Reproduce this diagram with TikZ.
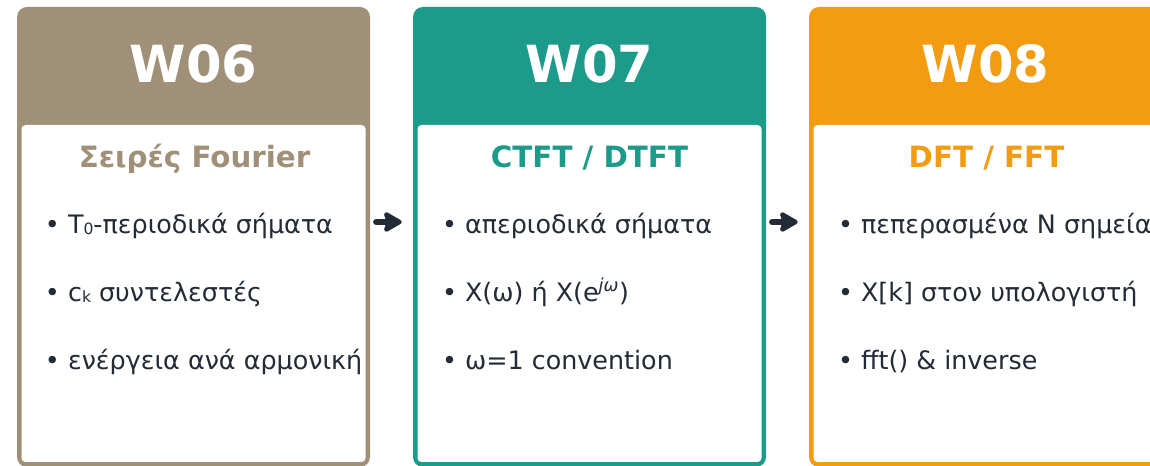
\documentclass[tikz,border=0pt]{standalone}
\usepackage{fontspec}
\setmainfont{DejaVu Sans}
\usetikzlibrary{calc,arrows.meta}
\definecolor{cbrown}{HTML}{A09078}
\definecolor{cteal}{HTML}{1C9A8A}
\definecolor{corange}{HTML}{F39C12}
\definecolor{ink}{HTML}{222B36}
\newcommand{\smallsub}[1]{\raisebox{-0.4pt}{\fontsize{11.7pt}{12pt}\selectfont #1}}
\begin{document}
\begin{tikzpicture}[x=0.75pt,y=-0.75pt,
  card/.style={rectangle, fill=#1, rounded corners=7.5pt, minimum width=264.75pt, minimum height=345pt, inner sep=0pt},
  body/.style={rectangle, fill=white, rounded corners=3pt, minimum width=258pt, minimum height=252.75pt, inner sep=0pt},
  wtitle/.style={anchor=base, inner sep=0pt, text=white, font=\fontsize{38.4pt}{40pt}\selectfont\bfseries},
  subtitle/.style={anchor=base, inner sep=0pt, text=#1, font=\fontsize{22pt}{24pt}\selectfont\bfseries},
  bullet/.style={anchor=base west, inner sep=0pt, text=ink, font=\fontsize{19.05pt}{22pt}\selectfont},
  flow/.style={draw=ink, line width=4.8pt, line cap=round, -{Stealth[length=16pt, width=18pt, inset=3pt, round]}}
]
\clip (0,0) rectangle (1150,466);
\fill[white] (0,0) rectangle (1150,466);

% cards
\node[card=cbrown] (c1) at (193.5,237) {};
\node[body] (b1) at (193.5,293.5) {};
\node[card=cteal] (c2) at (589.5,237) {};
\node[body] (b2) at (589.5,293.5) {};
\node[card=corange] (c3) at (985.5,237) {};
\node[body] (b3) at (985.5,293.5) {};

% titles
\node[wtitle] (t1) at (193.5,83) {W06};
\node[wtitle] (t2) at (589.5,83) {W07};
\node[wtitle] (t3) at (985.5,83) {W08};

\node[subtitle=cbrown] (s1) at (194.5,168) {Σειρές Fourier};
\node[subtitle=cteal] (s2) at (589.5,168) {CTFT / DTFT};
\node[subtitle=corange] (s3) at (986.5,168) {DFT / FFT};

% bullets card 1
\node[bullet] (p11) at ($(c1.north west)+(28,227)$) {• T\smallsub{0}-περιοδικά σήματα};
\node[bullet] (p12) at ($(c1.north west)+(28,295)$) {• c\smallsub{k} συντελεστές};
\node[bullet] (p13) at ($(c1.north west)+(28,363)$) {• ενέργεια ανά αρμονική};
% bullets card 2
\node[bullet] (p21) at ($(c2.north west)+(29,227)$) {• απεριοδικά σήματα};
\node[bullet] (p22) at ($(c2.north west)+(29,295)$) {• X(ω) ή X(e\textsuperscript{\itshape jω})};
\node[bullet] (p23) at ($(c2.north west)+(29,363)$) {• ω=1 convention};
% bullets card 3
\node[bullet] (p31) at ($(c3.north west)+(29,227)$) {• πεπερασμένα N σημεία};
\node[bullet] (p32) at ($(c3.north west)+(29,295)$) {• X[k] στον υπολογιστή};
\node[bullet] (p33) at ($(c3.north west)+(29,363)$) {• fft() \& inverse};

% arrows
\draw[flow] ($(c1.east)+(6,-15)$) -- ($(c2.west)+(-11,-15)$);
\draw[flow] ($(c2.east)+(6,-15)$) -- ($(c3.west)+(-11,-15)$);
\end{tikzpicture}
\end{document}
